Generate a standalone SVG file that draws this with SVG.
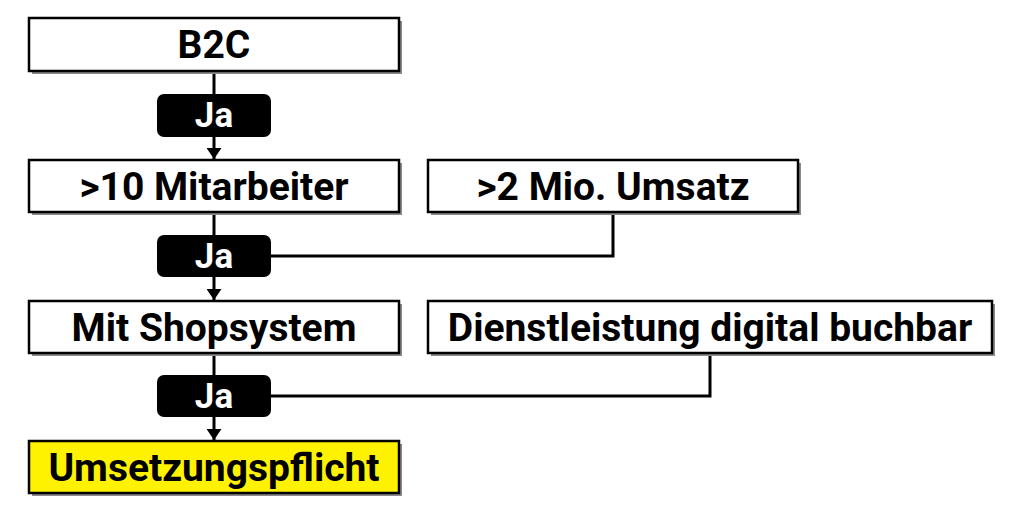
<svg xmlns="http://www.w3.org/2000/svg" width="1024" height="512" viewBox="0 0 1024 512">
<style>
.box{fill:#fff;stroke:#000;stroke-width:2.5}
.yel{fill:#fff200;stroke:#000;stroke-width:2.5}
.sh{fill:#8a8a8a}
.pill{fill:#000}
.t{font-family:Roboto,"Open Sans","Liberation Sans",sans-serif;font-weight:bold;font-size:39px;fill:#000;text-anchor:middle}
.j{font-family:Roboto,"Open Sans","Liberation Sans",sans-serif;font-weight:bold;font-size:35px;fill:#fff;text-anchor:middle}
.ln{fill:none;stroke:#000;stroke-width:3}
</style>
<defs>
<marker id="ah" viewBox="0 0 11 15" refX="11" refY="7.5" markerWidth="11" markerHeight="15" markerUnits="userSpaceOnUse" orient="auto">
<path d="M0,0 L11,7.5 L0,15 Z" fill="#000"/>
</marker>
</defs>
<rect width="1024" height="512" fill="#fff"/>
<g id="connectors">
<line class="ln" x1="214" y1="71" x2="214" y2="94"/>
<line class="ln" x1="214" y1="137" x2="214" y2="159" marker-end="url(#ah)"/>
<line class="ln" x1="214" y1="212" x2="214" y2="235"/>
<line class="ln" x1="214" y1="277" x2="214" y2="300" marker-end="url(#ah)"/>
<polyline class="ln" points="613,212 613,256 271,256"/>
<line class="ln" x1="214" y1="353" x2="214" y2="375"/>
<line class="ln" x1="214" y1="417" x2="214" y2="440" marker-end="url(#ah)"/>
<polyline class="ln" points="710,353 710,396 271,396"/>
</g>
<g id="b2c">
<rect class="sh" x="32" y="21" width="370" height="53"/>
<rect class="box" x="29" y="18" width="370" height="53"/>
<text class="t" x="214" y="58">B2C</text>
</g>
<g id="ja1">
<rect class="pill" x="157" y="94" width="114" height="43" rx="7"/>
<text class="j" x="214" y="127">Ja</text>
</g>
<g id="mitarbeiter">
<rect class="sh" x="32" y="163" width="370" height="52"/>
<rect class="box" x="29" y="160" width="370" height="52"/>
<text class="t" x="214" y="200">&gt;10 Mitarbeiter</text>
</g>
<g id="umsatz">
<rect class="sh" x="431" y="163" width="370" height="52"/>
<rect class="box" x="428" y="160" width="370" height="52"/>
<text class="t" x="613" y="200">&gt;2 Mio. Umsatz</text>
</g>
<g id="ja2">
<rect class="pill" x="157" y="235" width="114" height="42" rx="7"/>
<text class="j" x="214" y="268">Ja</text>
</g>
<g id="shopsystem">
<rect class="sh" x="32" y="304" width="370" height="52"/>
<rect class="box" x="29" y="301" width="370" height="52"/>
<text class="t" x="214" y="341">Mit Shopsystem</text>
</g>
<g id="dienstleistung">
<rect class="sh" x="431" y="304" width="564" height="52"/>
<rect class="box" x="428" y="301" width="564" height="52"/>
<text class="t" x="710" y="341">Dienstleistung digital buchbar</text>
</g>
<g id="ja3">
<rect class="pill" x="157" y="375" width="114" height="42" rx="7"/>
<text class="j" x="214" y="408">Ja</text>
</g>
<g id="pflicht">
<rect class="sh" x="32" y="444" width="370" height="52"/>
<rect class="yel" x="29" y="441" width="370" height="52"/>
<text class="t" x="214" y="481">Umsetzungspflicht</text>
</g>
</svg>
